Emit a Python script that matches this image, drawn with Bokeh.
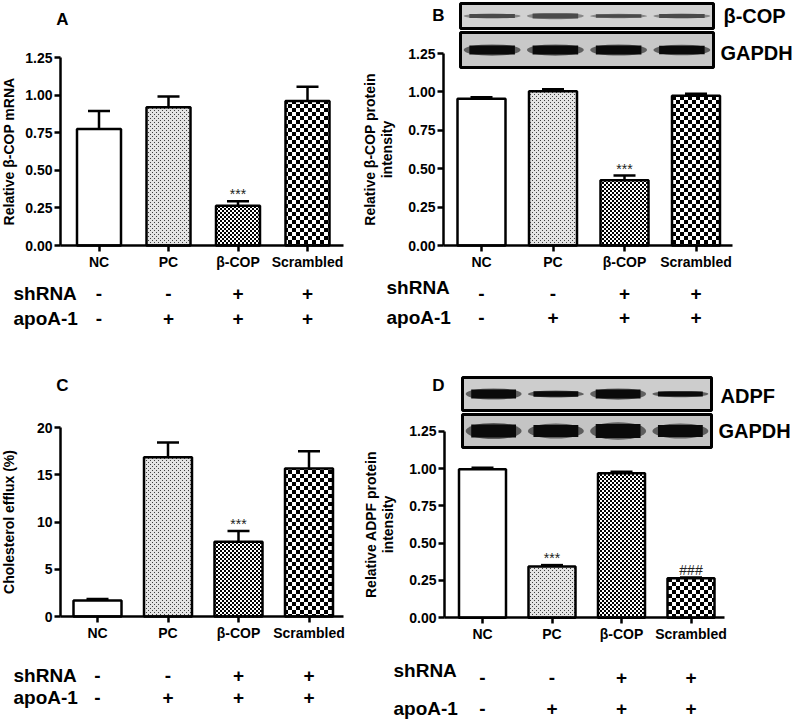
from bokeh.plotting import figure
from bokeh.layouts import row, column
from bokeh.models import (ColumnDataSource, Whisker, TeeHead, FixedTicker, Range1d,
                          CanvasTexture, NumeralTickFormatter)
from bokeh.core.properties import value, field
from bokeh.embed import file_html
from bokeh.resources import INLINE

# ---------------- data ----------------
groups = ["NC", "PC", "β-COP", "Scrambled"]
shrna = ["-", "-", "+", "+"]
apoa1 = ["-", "+", "+", "+"]
patterns = [" ", "stipple", "fine", "coarse"]

a_mean = [0.775, 0.92, 0.265, 0.96]
a_err = [0.12, 0.07, 0.03, 0.095]
a_sig = ["", "", "***", ""]

b_mean = [0.955, 1.005, 0.425, 0.975]
b_err = [0.01, 0.012, 0.03, 0.013]
b_sig = ["", "", "***", ""]

c_mean = [1.7, 16.85, 7.9, 15.65]
c_err = [0.15, 1.55, 1.15, 1.85]
c_sig = ["", "", "***", ""]

d_mean = [0.995, 0.343, 0.968, 0.265]
d_err = [0.01, 0.01, 0.01, 0.005]
d_sig = ["", "***", "", "###"]

# western blot band thickness (px)
b_cop_band = [4.0, 5.0, 3.5, 4.0]
b_gapdh_band = [9.0, 9.0, 9.0, 8.5]
d_adpf_band = [9.0, 5.5, 9.0, 5.0]
d_gapdh_band = [13.0, 12.0, 14.0, 12.0]

rel_ticks = [0, 0.25, 0.5, 0.75, 1.0, 1.25]
eff_ticks = [0, 5, 10, 15, 20]

FONT = "Liberation Sans"
TF = value(FONT)

PRE = "ctx.canvas.width=8;ctx.canvas.height=8;"
TEX = {
    "stipple": CanvasTexture(code=(PRE +
        "ctx.fillStyle='#e4e4e4';ctx.fillRect(0,0,8,8);ctx.fillStyle='#404040';"
        "for(var i=0;i<8;i+=2){for(var j=0;j<8;j+=2){if(((i+j)/2)%2==0){ctx.fillRect(i,j,1,1);}}}")),
    "fine": CanvasTexture(code=(PRE +
        "ctx.fillStyle='#ffffff';ctx.fillRect(0,0,8,8);ctx.fillStyle='#000000';"
        "for(var i=0;i<8;i+=2){for(var j=0;j<8;j+=2){if(((i+j)/2)%2==0){ctx.fillRect(i,j,2,2);}}}")),
    "coarse": CanvasTexture(code=(PRE +
        "ctx.fillStyle='#ffffff';ctx.fillRect(0,0,8,8);ctx.fillStyle='#000000';"
        "ctx.fillRect(0,0,4,4);ctx.fillRect(4,4,4,4);")),
}


def make_panel(W, H, y0, ytop, ticks, fmt, x1, dx, yaxis_px, xend_px, bar_px,
               means, errs, sigs, letter, letter_px, ylabel, ylabel_standoff,
               row_label_x, shr_label_y, shr_sign_y, apo_label_y, apo_sign_y,
               blots=()):
    ymax = ticks[-1]
    scale = (y0 - ytop) / ymax

    def Y(py):
        return (y0 - py) / scale

    def X(px):
        return 1 + (px - x1) / dx

    p = figure(width=W, height=H, x_range=Range1d(X(0), X(W)), y_range=Range1d(Y(H), Y(0)),
               min_border=0, output_backend="svg", toolbar_location=None, tools="",
               title=None)
    p.outline_line_color = None
    p.grid.visible = False
    p.background_fill_color = "white"
    p.border_fill_color = "white"

    xs = list(range(1, len(groups) + 1))
    src = ColumnDataSource(dict(x=xs, top=means,
                                upper=[m + e for m, e in zip(means, errs)],
                                lower=means, pat=patterns))
    p.vbar(x="x", top="top", bottom=0, width=bar_px / dx, source=src,
           fill_color="white", line_color="black", line_width=2.5,
           hatch_pattern=field("pat"), hatch_extra=TEX, hatch_scale=8)
    p.add_layout(Whisker(source=src, base="x", upper="upper", lower="lower",
                         dimension="height", line_width=2.5, line_color="black",
                         upper_head=TeeHead(size=22, line_width=2.5, line_color="black"),
                         lower_head=None, level="annotation"))

    # axes
    xa = p.xaxis[0]
    xa.fixed_location = 0
    xa.bounds = (X(yaxis_px), X(xend_px))
    xa.ticker = FixedTicker(ticks=xs)
    xa.major_label_overrides = {x: g for x, g in zip(xs, groups)}
    ya = p.yaxis[0]
    ya.fixed_location = X(yaxis_px)
    ya.bounds = (0, ymax)
    ya.ticker = FixedTicker(ticks=ticks)
    ya.formatter = NumeralTickFormatter(format=fmt)
    for ax in (xa, ya):
        ax.axis_line_width = 2.5
        ax.axis_line_color = "black"
        ax.major_tick_line_width = 2.5
        ax.major_tick_line_color = "black"
        ax.major_tick_in = 0
        ax.major_tick_out = 6
        ax.minor_tick_line_color = None
        ax.major_label_text_font = FONT
        ax.major_label_text_font_style = "bold"
        ax.major_label_text_font_size = "14px"
        ax.major_label_text_color = "black"
    xa.major_label_standoff = 2
    ya.major_label_standoff = 2
    ya.axis_label = ylabel
    ya.axis_label_text_font = FONT
    ya.axis_label_text_font_style = "bold"
    ya.axis_label_text_font_size = "14px"
    ya.axis_label_text_color = "black"
    ya.axis_label_text_line_height = 1.05
    ya.axis_label_standoff = ylabel_standoff

    # blots
    for (L, R, T, B, bands, band_color, bg, label, lab_x, lab_y) in blots:
        p.quad(left=[X(L)], right=[X(R)], top=[Y(T)], bottom=[Y(B)],
               fill_color=bg, line_color="black", line_width=3)
        lane = (R - L) / 4
        cx = [X(L + lane * (i + 0.5)) for i in range(4)]
        cy = [Y((T + B) / 2)] * 4
        p.ellipse(x=cx, y=cy, width=lane * 0.9 / dx, height=[b * 1.25 for b in bands],
                  height_units="screen", fill_color=band_color, fill_alpha=0.55,
                  line_color=None)
        p.rect(x=cx, y=cy, width=lane * 0.72 / dx, height=bands, height_units="screen",
               fill_color=band_color, line_color=None)
        p.text(x=[X(lab_x)], y=[Y(lab_y)], text=[label], text_font=TF,
               text_font_style="bold", text_font_size="20px", text_align="left",
               text_baseline="middle", text_color="black")

    # texts
    p.text(x=[X(letter_px[0])], y=[Y(letter_px[1])], text=[letter], text_font=TF,
           text_font_style="bold", text_font_size="17px", text_align="center",
           text_baseline="middle", text_color="black")
    p.text(x=[X(row_label_x)] * 2, y=[Y(shr_label_y), Y(apo_label_y)],
           text=["shRNA", "apoA-1"], text_font=TF, text_font_style="bold",
           text_font_size="19px", text_align="left", text_baseline="middle",
           text_color="black")
    p.text(x=xs, y=[Y(shr_sign_y)] * 4, text=shrna, text_font=TF, text_font_style="bold",
           text_font_size="19px", text_align="center", text_baseline="middle",
           text_color="black")
    p.text(x=xs, y=[Y(apo_sign_y)] * 4, text=apoa1, text_font=TF, text_font_style="bold",
           text_font_size="19px", text_align="center", text_baseline="middle",
           text_color="black")
    p.text(x=xs, y=[m + e + 7 / scale for m, e in zip(means, errs)], text=sigs,
           text_font=TF, text_font_size="14px", text_align="center",
           text_baseline="alphabetic", text_color="#222222")
    return p


pA = make_panel(360, 350, 245, 57, rel_ticks, "0.00", 98.5, 69.5, 60, 343, 44,
                a_mean, a_err, a_sig, "A", (62, 19), "Relative β-COP mRNA", 5,
                13, 293, 293, 318, 318)

pB = make_panel(433, 350, 245, 53, rel_ticks, "0.00", 121, 71.5, 83, 372, 48,
                b_mean, b_err, b_sig, "B", (78, 15), "Relative β-COP protein\nintensity", 10,
                26, 287, 293, 317, 317,
                blots=[(100, 353, 3, 28, b_cop_band, "#4a4a4a", "#d2d2d2", "β-COP", 363, 15),
                       (100, 353, 32, 67, b_gapdh_band, "#0a0a0a", "#c8c8c8", "GAPDH", 360, 52)])

pC = make_panel(360, 370, 266, 77, eff_ticks, "0", 97, 70.5, 60, 343, 48,
                c_mean, c_err, c_sig, "C", (62, 35), "Cholesterol efflux (%)", 17,
                13, 325, 325, 347, 347)

pD = make_panel(433, 370, 267.3, 80.7, rel_ticks, "0.00", 122, 69.5, 84, 364, 47,
                d_mean, d_err, d_sig, "D", (78, 35), "Relative ADPF protein\nintensity", 10,
                33, 320, 327, 358, 358,
                blots=[(102, 351, 27, 60, d_adpf_band, "#0a0a0a", "#cdcdcd", "ADPF", 360, 45),
                       (102, 351, 64, 97, d_gapdh_band, "#0a0a0a", "#c4c4c4", "GAPDH", 358, 80)])

layout = column(row(pA, pB), row(pC, pD))
open("out.html", "w").write(file_html(layout, INLINE, title="Figure"))
